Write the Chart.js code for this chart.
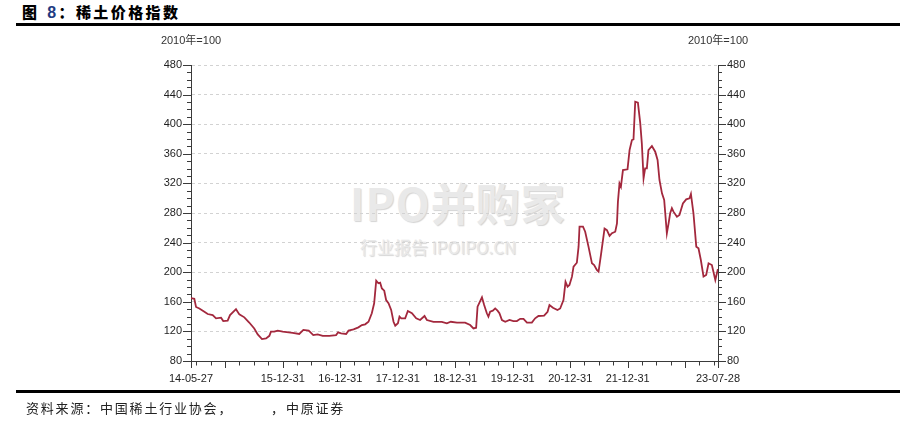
<!DOCTYPE html>
<html><head><meta charset="utf-8">
<script src="https://cdn.jsdelivr.net/npm/chart.js@4/dist/chart.umd.min.js"></script>
<style>
html,body{margin:0;padding:0;background:#fff;width:914px;height:430px;overflow:hidden;position:relative;font-family:"Liberation Sans",Arial,sans-serif}
#title{position:absolute;left:22px;top:1px;font-weight:900;font-size:15px;font-family:"Noto Sans CJK SC",sans-serif;color:#000;letter-spacing:2.4px;white-space:nowrap}
#title .n{color:#1f3b82;font-family:"Liberation Sans",Arial,sans-serif;font-size:16px;margin-left:2px}
.rule{position:absolute;left:16px;width:884px;height:3px;background:#000}
#src{position:absolute;left:26px;top:398px;font-size:13px;font-family:"Noto Sans CJK SC",sans-serif;color:#222;letter-spacing:1.8px;white-space:nowrap}
.wm{position:absolute;color:#e9e9e9;text-shadow:1px 1px 1px #d4d4d4;white-space:nowrap;font-family:"Noto Sans CJK SC",sans-serif}
#wrap{position:absolute;left:0;top:0;width:914px;height:430px}
</style></head>
<body>
<div id="title">图 <span class="n">8</span>：稀土价格指数</div>
<div class="rule" style="top:23px"></div>
<div class="wm" style="left:350px;top:170px;font-size:44px;font-weight:bold;letter-spacing:1px">IPO并购家</div>
<div class="wm" style="left:360px;top:234px;font-size:17px">行业报告 IPOIPO.CN</div>
<div id="wrap"><canvas id="c" width="914" height="430"></canvas></div>
<div class="rule" style="top:390px"></div>
<div id="src">资料来源：中国稀土行业协会，　　　，中原证券</div>
<script>
const unitLabel = '2010年=100';
const dates = [
'2014-05-27','2014-06-17','2014-06-28','2014-07-19','2014-08-20','2014-09-10','2014-10-12','2014-11-02','2014-12-04','2014-12-18',
'2015-01-15','2015-01-30','2015-03-09','2015-03-30','2015-05-01','2015-06-01','2015-07-03','2015-07-25','2015-08-21','2015-09-16',
'2015-10-07','2015-10-17','2015-11-07','2015-11-29','2015-12-31','2016-03-03','2016-04-14','2016-05-10','2016-06-13','2016-07-12',
'2016-08-09','2016-09-10','2016-10-22','2016-12-04','2016-12-17','2017-01-05','2017-02-06','2017-02-21','2017-03-25','2017-04-25',
'2017-05-17','2017-06-07','2017-06-28','2017-07-19','2017-08-03','2017-08-16','2017-08-30','2017-09-10','2017-09-21','2017-10-06',
'2017-10-18','2017-11-02','2017-11-19','2017-12-04','2017-12-15','2018-01-01','2018-01-11','2018-01-22','2018-02-16','2018-03-05',
'2018-03-31','2018-04-27','2018-05-22','2018-06-19','2018-07-04','2018-08-15','2018-10-07','2018-11-08','2018-12-03','2019-01-11',
'2019-03-04','2019-04-05','2019-04-26','2019-05-13','2019-05-22','2019-06-19','2019-07-03','2019-07-20','2019-07-30','2019-08-10',
'2019-08-27','2019-09-11','2019-09-26','2019-10-08','2019-10-24','2019-11-14','2019-12-11','2020-01-05','2020-01-27','2020-02-17',
'2020-03-09','2020-03-31','2020-05-01','2020-05-22','2020-06-12','2020-07-18','2020-08-09','2020-08-21','2020-09-12','2020-10-11',
'2020-10-28','2020-11-18','2020-12-01','2020-12-14','2020-12-26','2021-01-11','2021-01-21','2021-02-11','2021-02-22','2021-02-28',
'2021-03-22','2021-04-05','2021-04-26','2021-05-18','2021-06-01','2021-06-18','2021-06-29','2021-07-14','2021-07-27','2021-08-06',
'2021-08-21','2021-09-07','2021-09-22','2021-10-13','2021-10-24','2021-10-30','2021-11-09','2021-11-18','2021-12-01','2021-12-30',
'2022-01-12','2022-01-27','2022-02-06','2022-02-17','2022-03-06','2022-03-21','2022-03-31','2022-04-11','2022-04-21','2022-05-02',
'2022-05-12','2022-06-03','2022-06-24','2022-07-09','2022-07-21','2022-08-06','2022-08-20','2022-09-06','2022-09-17','2022-09-27',
'2022-10-08','2022-10-18','2022-11-09','2022-11-25','2022-12-17','2023-01-07','2023-01-28','2023-02-06','2023-02-22','2023-03-12',
'2023-03-26','2023-04-10','2023-04-27','2023-05-14','2023-05-29','2023-06-19','2023-07-11','2023-07-26','2023-07-28'
];
const values = [
165,164,153,151,146.6,143.5,142,137.7,138.5,134,
134.5,142,150,143,139,132,124,116,109.7,110.6,
114,119.6,119.6,121,119.6,118,116.5,122,121,115,
116,114,114,115,118.8,117.4,116.5,121,122.8,125.5,
128.6,129.6,133,144.5,158,188.5,185,185.8,178,175,
162.4,158,149,133,127.7,131,140,137.7,137.7,147.6,
144.5,137.7,135.4,140.8,135.4,133,133,131,133,131.8,
131.8,128.6,124,125,153.4,166,155.7,144.5,140,146.6,
148,151,148,144.5,135.4,133,135.4,134,134,137,
136.8,131.8,131.8,137.7,140.8,141.2,146.6,155.7,152,149,
151,162.4,187,180.4,182.7,194,207.4,212.8,234.5,261.5,
261.5,254.7,234.5,212,209.7,203,200.7,223,243.5,259,
257,249,252.6,254.7,266,295,320,315.5,338,339,
365,378.6,379.6,430.4,429,401,374,327,340.4,340.4,
365,370.5,362.8,351.6,324.6,306.6,297.6,252.6,266,279.6,
286.4,281.8,275,277.3,293,298.5,299.9,305.7,279.6,234.5,
232.3,216.5,194,196.2,212,209.7,189.5,203,203
];
const xLabelDates = ['2014-05-27','2015-12-31','2016-12-31','2017-12-31','2018-12-31','2019-12-31','2020-12-31','2021-12-31','2023-07-28'];
const yMin = 80, yMax = 480, yMajorStep = 40, yMinorStep = 10;

const DAY = 86400000;
function toDay(s){const p=s.split('-').map(Number);return Date.UTC(p[0],p[1]-1,p[2])/DAY;}
function fmt(d){const dt=new Date(d*DAY);const y=String(dt.getUTCFullYear()).slice(2);const m=String(dt.getUTCMonth()+1).padStart(2,'0');const dd=String(dt.getUTCDate()).padStart(2,'0');return y+'-'+m+'-'+dd;}
const startDay = toDay(dates[0]), endDay = toDay(dates[dates.length-1]);
const labelDays = new Set(xLabelDates.map(toDay));
const quarterDays = [];
for(let y=2014;y<=2023;y++){for(const m of [3,6,9,12]){const d=Date.UTC(y,m,0)/DAY; if(d>startDay && d<endDay) quarterDays.push(d);}}
function isYearEnd(d){const dt=new Date(d*DAY);return dt.getUTCMonth()===11&&dt.getUTCDate()===31;}

const pts = dates.map((d,i)=>({x:toDay(d),y:values[i]}));
const AX='#3a3a3a', TXT='#1e1e1e';

const tickPlugin = {
  id:'tickPlugin',
  afterDraw(chart){
    const ctx=chart.ctx, ca=chart.chartArea;
    ctx.save();
    ctx.strokeStyle=AX; ctx.lineWidth=1;
    ctx.beginPath();
    for(const id of ['y','y2']){
      const s=chart.scales[id];
      for(const t of s.ticks){
        const py=Math.round(s.getPixelForValue(t.value))+0.5;
        const len=(t.value%yMajorStep===0)?8:4;
        if(id==='y'){ctx.moveTo(ca.left-len,py);ctx.lineTo(ca.left,py);}
        else{ctx.moveTo(ca.right,py);ctx.lineTo(ca.right+len,py);}
      }
    }
    const sx=chart.scales.x;
    for(const t of sx.ticks){
      const px=Math.round(sx.getPixelForValue(t.value))+0.5;
      const len=(isYearEnd(t.value)||t.value===startDay||t.value===endDay)?7:4.5;
      ctx.moveTo(px,ca.bottom);ctx.lineTo(px,ca.bottom+len);
    }
    ctx.stroke();
    ctx.fillStyle='#333';
    ctx.font='11px "Liberation Sans", "Noto Sans CJK SC", sans-serif';
    ctx.textAlign='center'; ctx.textBaseline='middle';
    ctx.fillText(unitLabel, ca.left, ca.top-24);
    ctx.fillText(unitLabel, ca.right, ca.top-24);
    ctx.restore();
  }
};

const yCommon = {
  type:'linear', min:yMin, max:yMax,
  afterBuildTicks(s){const t=[];for(let v=yMin;v<=yMax;v+=yMinorStep)t.push({value:v});s.ticks=t;},
  ticks:{autoSkip:false,padding:1,color:TXT,font:{family:'"Liberation Sans", Arial, sans-serif',size:11},
    callback:(v)=> (v%yMajorStep===0?String(v):'')},
  border:{display:true,color:AX,width:1,dash:[3,3]},
  afterFit(s){s.width=45;}
};

new Chart(document.getElementById('c'),{
  type:'line',
  data:{datasets:[{data:pts,borderColor:'#a3283d',borderWidth:1.8,pointRadius:0,tension:0,fill:false}]},
  plugins:[tickPlugin],
  options:{
    responsive:false,animation:false,
    layout:{padding:{left:146,right:151,top:65,bottom:30}},
    plugins:{legend:{display:false},tooltip:{enabled:false}},
    scales:{
      x:{type:'linear',min:startDay,max:endDay,
        afterBuildTicks(s){s.ticks=[startDay,...quarterDays,endDay].map(v=>({value:v}));},
        ticks:{autoSkip:false,maxRotation:0,minRotation:0,padding:4,color:TXT,font:{family:'"Liberation Sans", Arial, sans-serif',size:11},
          callback:(v)=> labelDays.has(v)?fmt(v):''},
        grid:{display:true,drawOnChartArea:false,drawTicks:true,tickLength:7,tickColor:'rgba(0,0,0,0)'},
        border:{display:true,color:AX,width:1},
        afterFit(s){s.height=39;}
      },
      y:Object.assign({},yCommon,{position:'left',
        grid:{display:true,drawOnChartArea:true,drawTicks:true,tickLength:8,tickColor:'rgba(0,0,0,0)',
          color:(c)=>(c.tick && c.tick.value%yMajorStep===0 && c.tick.value!==yMin)?'#d2d2d2':'rgba(0,0,0,0)'}}),
      y2:Object.assign({},yCommon,{position:'right',
        grid:{display:true,drawOnChartArea:false,drawTicks:true,tickLength:8,tickColor:'rgba(0,0,0,0)'}})
    }
  }
});
</script>
</body></html>
